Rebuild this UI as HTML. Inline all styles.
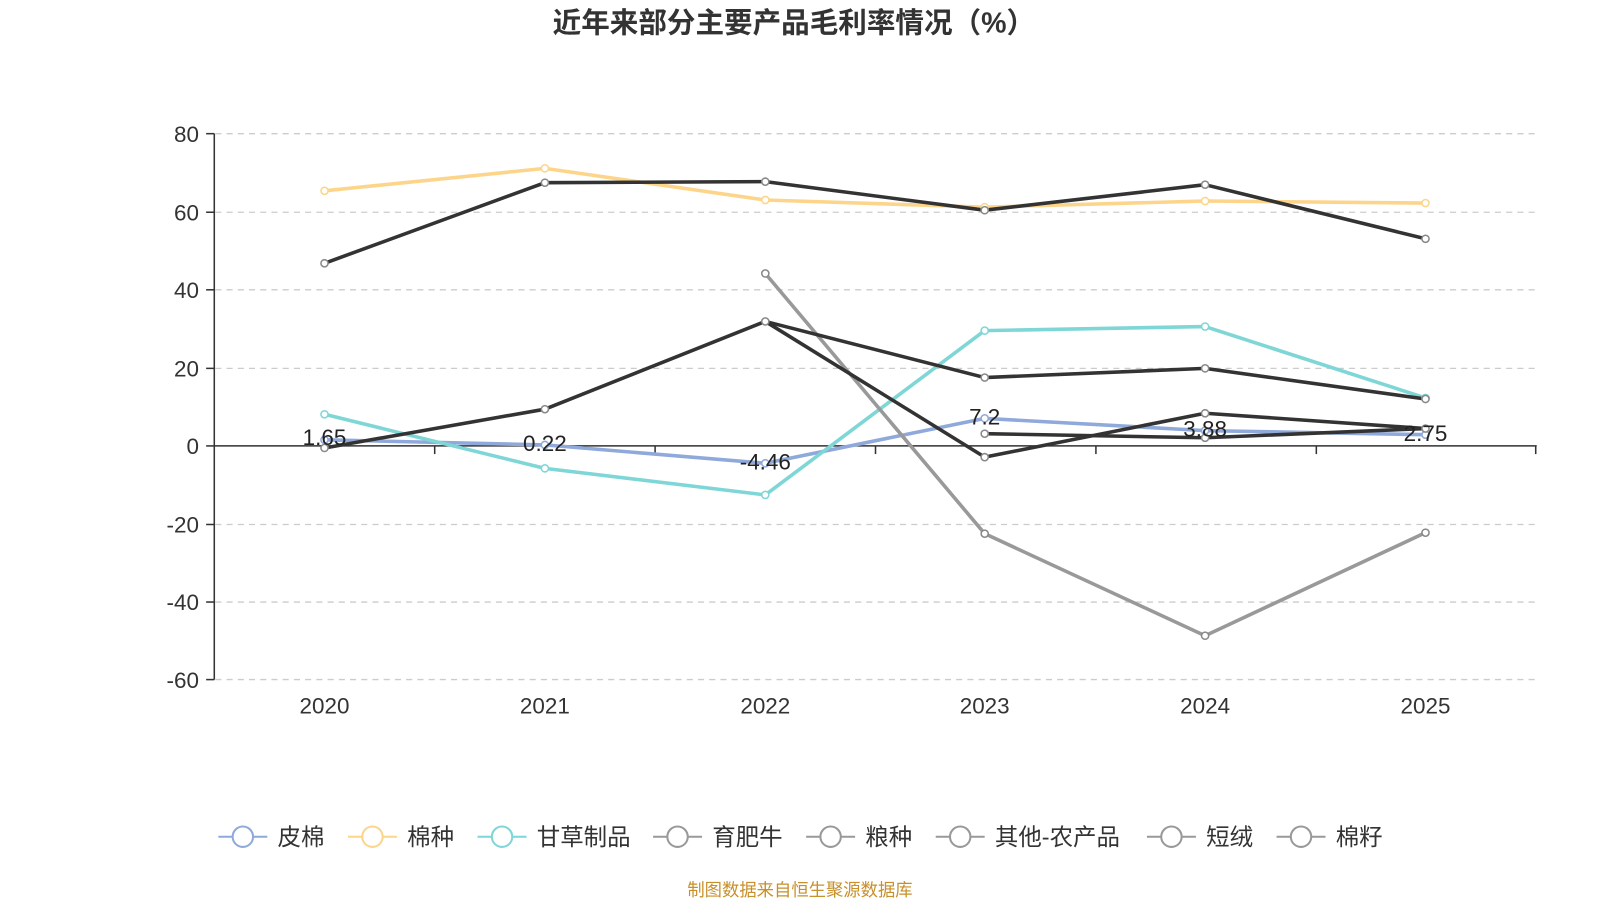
<!DOCTYPE html>
<html><head><meta charset="utf-8"><style>
body{margin:0;background:#fff;}
svg{display:block;font-family:"Liberation Sans","Noto Sans CJK SC",sans-serif;}
</style></head><body>
<svg width="1600" height="900" viewBox="0 0 1568 882" xmlns="http://www.w3.org/2000/svg">
<text x="778" y="32" text-anchor="middle" font-size="28" font-weight="bold" fill="#333">近年来部分主要产品毛利率情况（%）</text>
<g stroke="#ccc" stroke-dasharray="6,5" stroke-width="1.3">
<line x1="211" x2="1505" y1="131" y2="131"/><line x1="211" x2="1505" y1="208" y2="208"/>
<line x1="211" x2="1505" y1="284" y2="284"/><line x1="211" x2="1505" y1="361" y2="361"/>
<line x1="211" x2="1505" y1="514" y2="514"/><line x1="211" x2="1505" y1="590" y2="590"/>
<line x1="211" x2="1505" y1="666" y2="666"/>
</g>
<g stroke="#333" stroke-width="1.5">
<line x1="210" x2="210" y1="131" y2="666"/>
<line x1="210" x2="1506" y1="437" y2="437"/>
<line x1="202" x2="210" y1="131" y2="131"/><line x1="202" x2="210" y1="208" y2="208"/>
<line x1="202" x2="210" y1="284" y2="284"/><line x1="202" x2="210" y1="361" y2="361"/>
<line x1="202" x2="210" y1="437" y2="437"/><line x1="202" x2="210" y1="514" y2="514"/>
<line x1="202" x2="210" y1="590" y2="590"/><line x1="202" x2="210" y1="666" y2="666"/>
<line x1="426" x2="426" y1="437" y2="445"/><line x1="642" x2="642" y1="437" y2="445"/>
<line x1="858" x2="858" y1="437" y2="445"/><line x1="1074" x2="1074" y1="437" y2="445"/>
<line x1="1290" x2="1290" y1="437" y2="445"/><line x1="1505" x2="1505" y1="437" y2="445"/>
</g>
<g font-size="22" fill="#333" text-anchor="end">
<text x="195" y="139">80</text><text x="195" y="216">60</text><text x="195" y="292">40</text>
<text x="195" y="369">20</text><text x="195" y="445">0</text><text x="195" y="522">-20</text>
<text x="195" y="598">-40</text><text x="195" y="674">-60</text>
</g>
<g font-size="22" fill="#333" text-anchor="middle">
<text x="318" y="699">2020</text><text x="534" y="699">2021</text><text x="750" y="699">2022</text>
<text x="965" y="699">2023</text><text x="1181" y="699">2024</text><text x="1397" y="699">2025</text>
</g>
<g fill="none" stroke-width="3.5" stroke-linejoin="round">
<polyline stroke="#fdd58a" points="318,187 534,165 750,196 965,203 1181,197 1397,199"/>
<polyline stroke="#8fa9db" points="318,431 534,436 750,454 965,410 1181,422 1397,426"/>
<polyline stroke="#7fd6d6" points="318,406 534,459 750,485 965,324 1181,320 1397,390"/>
<polyline stroke="#999" points="750,268 965,523 1181,623 1397,522"/>
<polyline stroke="#333" points="318,258 534,179 750,178 965,206 1181,181 1397,234"/>
<polyline stroke="#333" points="318,439 534,401 750,315 965,370 1181,361 1397,391"/>
<polyline stroke="#333" points="750,315 965,448 1181,405 1397,420"/>
<polyline stroke="#333" points="965,425 1181,429 1397,420"/>
</g>
<g fill="#fff" stroke-width="1.5">
<g stroke="#fdd58a"><circle cx="318" cy="187" r="3.5"/><circle cx="534" cy="165" r="3.5"/><circle cx="750" cy="196" r="3.5"/><circle cx="965" cy="203" r="3.5"/><circle cx="1181" cy="197" r="3.5"/><circle cx="1397" cy="199" r="3.5"/></g>
<g stroke="#8fa9db"><circle cx="318" cy="431" r="3.5"/><circle cx="534" cy="436" r="3.5"/><circle cx="750" cy="454" r="3.5"/><circle cx="965" cy="410" r="3.5"/><circle cx="1181" cy="422" r="3.5"/><circle cx="1397" cy="426" r="3.5"/></g>
<g stroke="#7fd6d6"><circle cx="318" cy="406" r="3.5"/><circle cx="534" cy="459" r="3.5"/><circle cx="750" cy="485" r="3.5"/><circle cx="965" cy="324" r="3.5"/><circle cx="1181" cy="320" r="3.5"/><circle cx="1397" cy="390" r="3.5"/></g>
<g stroke="#888"><circle cx="750" cy="268" r="3.5"/><circle cx="965" cy="523" r="3.5"/><circle cx="1181" cy="623" r="3.5"/><circle cx="1397" cy="522" r="3.5"/>
<circle cx="318" cy="258" r="3.5"/><circle cx="534" cy="179" r="3.5"/><circle cx="750" cy="178" r="3.5"/><circle cx="965" cy="206" r="3.5"/><circle cx="1181" cy="181" r="3.5"/><circle cx="1397" cy="234" r="3.5"/>
<circle cx="318" cy="439" r="3.5"/><circle cx="534" cy="401" r="3.5"/><circle cx="750" cy="315" r="3.5"/><circle cx="965" cy="370" r="3.5"/><circle cx="1181" cy="361" r="3.5"/><circle cx="1397" cy="391" r="3.5"/>
<circle cx="965" cy="448" r="3.5"/><circle cx="1181" cy="405" r="3.5"/><circle cx="1397" cy="420" r="3.5"/>
<circle cx="965" cy="425" r="3.5"/><circle cx="1181" cy="429" r="3.5"/></g>
</g>
<g font-size="22" fill="#222" text-anchor="middle">
<text x="318" y="436">1.65</text><text x="534" y="442">0.22</text><text x="750" y="460">-4.46</text>
<text x="965" y="416">7.2</text><text x="1181" y="428">3.88</text><text x="1397" y="432">2.75</text>
</g>
<g font-size="23" fill="#333" stroke-width="2">
<g><line x1="214" x2="262" y1="820" y2="820" stroke="#8fa9db"/><circle cx="238" cy="820" r="10" fill="#fff" stroke="#8fa9db"/><text x="272" y="828">皮棉</text></g>
<g><line x1="341" x2="389" y1="820" y2="820" stroke="#fdd58a"/><circle cx="365" cy="820" r="10" fill="#fff" stroke="#fdd58a"/><text x="399" y="828">棉种</text></g>
<g><line x1="468" x2="516" y1="820" y2="820" stroke="#7fd6d6"/><circle cx="492" cy="820" r="10" fill="#fff" stroke="#7fd6d6"/><text x="526" y="828">甘草制品</text></g>
<g><line x1="640" x2="688" y1="820" y2="820" stroke="#999"/><circle cx="664" cy="820" r="10" fill="#fff" stroke="#999"/><text x="698" y="828">育肥牛</text></g>
<g><line x1="790" x2="838" y1="820" y2="820" stroke="#999"/><circle cx="814" cy="820" r="10" fill="#fff" stroke="#999"/><text x="848" y="828">粮种</text></g>
<g><line x1="917" x2="965" y1="820" y2="820" stroke="#999"/><circle cx="941" cy="820" r="10" fill="#fff" stroke="#999"/><text x="975" y="828">其他-农产品</text></g>
<g><line x1="1124" x2="1172" y1="820" y2="820" stroke="#999"/><circle cx="1148" cy="820" r="10" fill="#fff" stroke="#999"/><text x="1182" y="828">短绒</text></g>
<g><line x1="1251" x2="1299" y1="820" y2="820" stroke="#999"/><circle cx="1275" cy="820" r="10" fill="#fff" stroke="#999"/><text x="1309" y="828">棉籽</text></g>
</g>
<text x="784" y="878" text-anchor="middle" font-size="17" fill="#c8902a">制图数据来自恒生聚源数据库</text>
</svg>
</body></html>
